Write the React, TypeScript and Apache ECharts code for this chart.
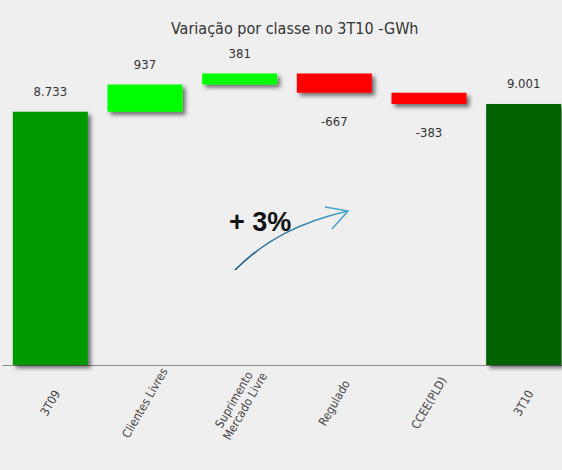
import React, { useEffect, useRef } from "react";
import * as echarts from "echarts";

const title = "Variação por classe no 3T10 -GWh";
const categories = ["3T09", "Clientes Livres", "Suprimento\nMercado Livre", "Regulado", "CCEE(PLD)", "3T10"];
const startValue = 8733;
const deltas = [937, 381, -667, -383];
const endValue = 9001;
const barColors = ["#009a00", "#00ff00", "#00ff00", "#ff0000", "#ff0000", "#006400"];
const annotation = "+ 3%";

const FONT = '"DejaVu Sans Condensed", "Liberation Sans Narrow", sans-serif';

function fmt(v: number): string {
  const s = Math.abs(v).toString().replace(/\B(?=(\d{3})+(?!\d))/g, ".");
  return (v < 0 ? "-" : "") + s;
}

export default function App() {
  const ref = useRef<HTMLDivElement>(null);
  useEffect(() => {
    if (!ref.current) return;
    const chart = echarts.init(ref.current, undefined, { renderer: "svg" });

    const base: number[] = [0];
    const heights: number[] = [startValue];
    const signed: number[] = [startValue];
    let running = startValue;
    deltas.forEach((d) => {
      const next = running + d;
      base.push(Math.min(running, next));
      heights.push(Math.abs(d));
      signed.push(d);
      running = next;
    });
    base.push(0);
    heights.push(endValue);
    signed.push(endValue);

    const shadow = {
      shadowColor: "rgba(0,0,0,0.55)",
      shadowBlur: 4,
      shadowOffsetX: 3,
      shadowOffsetY: 3,
    };

    chart.setOption({
      animation: false,
      backgroundColor: "#efefef",
      title: {
        text: title,
        left: 166,
        top: 15,
        textStyle: { fontFamily: FONT, fontSize: 16, fontWeight: "normal", color: "#333" },
      },
      grid: { left: 3, right: 0, top: 46, height: 319, outerBoundsMode: "none", containLabel: false },
      xAxis: {
        type: "category",
        data: categories,
        axisTick: { show: false },
        axisLine: { lineStyle: { color: "#8a8a8a", width: 1 } },
        axisLabel: {
          rotate: 60,
          align: "center",
          verticalAlign: "middle",
          margin: 38,
          interval: 0,
          fontFamily: FONT,
          fontSize: 12,
          lineHeight: 13,
          color: "#444",
        },
      },
      yAxis: { type: "value", min: 0, max: 11000, show: false, splitLine: { show: false } },
      series: [
        {
          type: "bar",
          stack: "w",
          data: base,
          itemStyle: { color: "transparent" },
          silent: true,
          barWidth: 75,
        },
        {
          type: "bar",
          stack: "w",
          barWidth: 75,
          data: heights.map((h, i) => ({
            value: h,
            itemStyle: { color: barColors[i], ...shadow },
            label: {
              show: true,
              position: signed[i] < 0 ? "bottom" : "top",
              distance: signed[i] < 0 ? 22 : 14,
              formatter: fmt(signed[i]),
              fontFamily: FONT,
              fontSize: 13,
              color: "#333",
            },
          })),
        },
      ],
      graphic: [
        {
          type: "text",
          left: 229,
          top: 208,
          style: {
            text: annotation,
            font: 'bold 27px "Liberation Sans", Arial, sans-serif',
            fill: "#111",
          },
        },
        {
          type: "bezierCurve",
          shape: { x1: 235, y1: 270, cpx1: 265, cpy1: 240, cpx2: 300, cpy2: 222, x2: 348, y2: 211 },
          style: {
            stroke: new echarts.graphic.LinearGradient(0, 0, 1, 0, [
              { offset: 0, color: "#1d5a86" },
              { offset: 1, color: "#4aa6cc" },
            ]),
            lineWidth: 1.6,
            fill: "none",
          },
        },
        {
          type: "polyline",
          shape: { points: [[325, 207], [348, 211], [332, 229]] },
          style: { stroke: "#4aa6cc", lineWidth: 1.6, fill: "none" },
        },
      ],
    });
    return () => chart.dispose();
  }, []);
  return (
    <div
      ref={ref}
      style={{ position: "fixed", left: 0, top: 0, width: 571, height: 470 }}
    />
  );
}
